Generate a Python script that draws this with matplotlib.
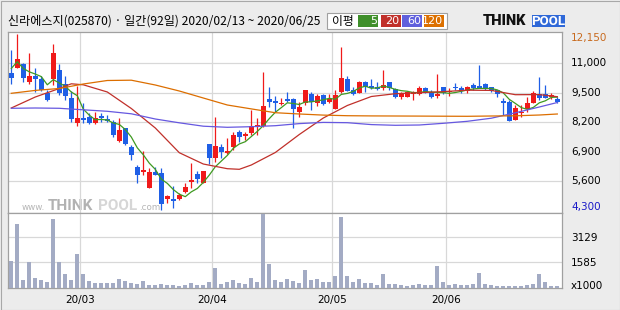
import matplotlib
matplotlib.use("Agg")
import matplotlib.pyplot as plt
import matplotlib.transforms as mtransforms
from matplotlib.patches import Rectangle
import numpy as np

# ---------------- data ----------------
title = "신라에스지(025870) · 일간(92일) 2020/02/13 ~ 2020/06/25"

opens = [10385, 10607, 10784, 10012, 10265, 10132, 9498, 10136, 10531, 9910,
         9303, 8167, 8389, 8447, 8181, 8504, 8358, 8225, 7396, 7945,
         7103, 6216, 6021, 5311, 6021, 5949, 4797, 4797, 4810, 5107,
         5577, 5919, 5506, 7249, 6642, 7103, 6864, 7130, 7795, 7604,
         7750, 8017, 8048, 9245, 9170, 9010, 9245, 9245, 8655, 9054,
         9454, 9081, 9422, 9125, 8801, 9569, 10132, 9644, 9524, 10012,
         9835, 9790, 9720, 10012, 9689, 9347, 9347, 9454, 9454, 9746,
         9569, 9378, 9777, 9569, 9790, 9746, 9600, 9866, 9821, 9897,
         9764, 9631, 9156, 9125, 8314, 8624, 8801, 9054, 9454, 9467,
         9347, 9262]
highs = [11418, 12115, 10828, 11272, 10607, 10278, 9644, 11684, 10784, 10265,
         9600, 9821, 9054, 8611, 8655, 8611, 8535, 8314, 8416, 7972,
         7205, 6318, 6939, 6171, 6242, 6171, 4987, 5387, 5063, 5506,
         6393, 6065, 6065, 7249, 8460, 7249, 7529, 7795, 7870, 7795,
         8757, 8389, 10456, 9764, 9391, 9303, 9569, 9303, 9125, 9644,
         9569, 9454, 9467, 9454, 9644, 11565, 10265, 9790, 10043, 10056,
         10132, 10012, 10531, 10012, 9746, 9569, 9600, 9600, 9835, 9790,
         9631, 10340, 9790, 9746, 9968, 9821, 9821, 9941, 10753, 9941,
         9790, 9644, 9276, 9201, 8979, 8979, 9347, 9600, 10234, 9866,
         9498, 9347]
lows = [9897, 10607, 9986, 9897, 9569, 9600, 9156, 9866, 9422, 9201,
        8238, 8061, 8167, 8136, 8123, 8238, 8225, 7573, 7325, 7205,
        6540, 5533, 5874, 5298, 5874, 4322, 4619, 4398, 4766, 5063,
        5285, 5506, 5506, 6349, 6464, 6615, 6793, 6983, 7351, 7427,
        7648, 7648, 8017, 8904, 8655, 8979, 9099, 7972, 8460, 8979,
        8757, 8935, 8979, 9081, 8801, 9498, 9600, 9422, 9524, 9569,
        9688, 9644, 9644, 9644, 9276, 9245, 9320, 9201, 9422, 9498,
        9303, 9276, 9467, 9391, 9644, 9524, 9524, 9644, 9720, 9644,
        9569, 9347, 8535, 8283, 8314, 8460, 8682, 9054, 9201, 9276,
        9245, 9054]
closes = [10190, 11019, 10163, 10265, 10119, 9631, 9200, 11298, 9524, 9391,
          8358, 8389, 8314, 8181, 8389, 8416, 8269, 7648, 7870, 7249,
          6761, 5874, 6096, 6021, 5874, 4588, 4943, 4721, 4987, 5329,
          5653, 5697, 6065, 6615, 7174, 6908, 6952, 7648, 7573, 7679,
          8048, 8092, 8935, 9125, 9081, 9081, 9156, 8788, 8904, 9644,
          9099, 9378, 9023, 9232, 9422, 10190, 9600, 9467, 10012, 9790,
          9746, 9675, 9866, 9720, 9347, 9467, 9542, 9569, 9746, 9542,
          9347, 9467, 9524, 9600, 9720, 9613, 9777, 9746, 9720, 9720,
          9600, 9454, 9081, 8283, 8832, 8669, 9054, 9524, 9303, 9276,
          9422, 9125]
volumes = [1660, 3960, 480, 1555, 600, 480, 355, 4270, 1600, 850,
           480, 2095, 850, 415, 290, 290, 250, 290, 520, 415,
           290, 230, 415, 170, 170, 230, 170, 170, 105, 170,
           290, 170, 170, 355, 1225, 230, 355, 480, 290, 230,
           600, 355, 4585, 1475, 480, 355, 540, 415, 290, 1100,
           480, 540, 355, 355, 730, 4400, 730, 355, 540, 290,
           290, 170, 850, 230, 230, 170, 105, 170, 230, 170,
           170, 1350, 355, 170, 230, 170, 170, 230, 915, 230,
           170, 105, 105, 105, 105, 105, 170, 230, 850, 355,
           105, 105]

ma5 = [10600, 10900, 10600, 10450, 10351, 10239, 9876, 10103, 9954, 9809,
       9554, 9392, 8795, 8527, 8326, 8338, 8314, 8181, 8118, 7890,
       7559, 7080, 6770, 6400, 6125, 5691, 5504, 5229, 5023, 4914,
       5127, 5277, 5546, 5872, 6241, 6492, 6743, 7059, 7251, 7352,
       7580, 7808, 8065, 8376, 8656, 8863, 9076, 9046, 9002, 9115,
       9118, 9163, 9210, 9275, 9231, 9449, 9493, 9582, 9738, 9812,
       9723, 9738, 9818, 9759, 9671, 9615, 9588, 9529, 9534, 9573,
       9549, 9534, 9525, 9496, 9532, 9585, 9647, 9691, 9715, 9715,
       9713, 9648, 9515, 9228, 9050, 8864, 8784, 8872, 9076, 9165,
       9316, 9330]

ma20_days = [0, 4, 8, 10, 12, 16, 20, 24, 28, 32, 36, 38, 40, 44, 48, 52, 56,
             60, 64, 68, 72, 76, 80, 84, 88, 91]
ma20 = [8846, 9334, 9711, 9919, 9875, 9556, 8824, 7959, 6863, 6362, 6154, 6127,
        6318, 6872, 7671, 8402, 8957, 9356, 9480, 9524, 9573, 9635, 9626, 9436,
        9440, 9347]

ma_days = [0, 4, 8, 12, 16, 20, 24, 28, 32, 36, 40, 44, 48, 52, 56, 60, 64,
           68, 72, 76, 80, 84, 88, 91]
ma60 = [8833, 8846, 8833, 8766, 8700, 8589, 8358, 8189, 8039, 7990, 8017, 8061,
        8154, 8207, 8194, 8110, 8079, 8092, 8167, 8256, 8393, 8633, 8890, 9090]
ma120 = [9498, 9626, 9711, 9910, 10066, 10079, 9866, 9600, 9289, 8979, 8806,
         8637, 8580, 8531, 8504, 8495, 8491, 8487, 8482, 8478, 8491, 8500,
         8535, 8580]

month_labels = ["20/03", "20/04", "20/05", "20/06"]
month_start_idx = [12, 34, 54, 73]

price_tick_labels = ["4,300", "5,600", "6,900", "8,200", "9,500", "11,000", "12,150"]
price_lo, price_hi = 4300, 12150
vol_tick_values = [0, 1585, 3129]
vol_tick_labels = ["x1000", "1585", "3129"]

legend_title = "이평"
legend_labels = ["5", "20", "60", "120"]

# ---------------- style ----------------
RED = "#f01a1a"
BLUE = "#1f5fe6"
VOLC = "#a3abc4"
GRID = "#d8d8d8"
FRAME = "#a0a0a0"
MA_COLORS = ["#3f9a22", "#c0302a", "#6658e0", "#dc6e00"]
LEG_COLORS = ["#3f8f2a", "#c0302a", "#6060dc", "#dc7000"]
BG = "#ececec"

W, H = 620, 310
fig = plt.figure(figsize=(W / 100, H / 100), dpi=100, facecolor=BG)


def fx(px):
    return px / W


def fy(py):
    return 1 - py / H


def add_rect(x0, y0, x1, y1, **kw):
    r = Rectangle((fx(x0), fy(y1)), (x1 - x0) / W, (y1 - y0) / H,
                  transform=fig.transFigure, **kw)
    fig.patches.append(r)
    return r


PL, PR = 7.5, 562.3
P_TOP, P_BOT = 31.7, 212.7
V_BOT = 287.5

ax = fig.add_axes([fx(PL), fy(P_BOT), (PR - PL) / W, (P_BOT - P_TOP) / H])
axv = fig.add_axes([fx(PL), fy(V_BOT), (PR - PL) / W, (V_BOT - P_BOT) / H])

n = len(closes)
idx = np.arange(n)
o = np.array(opens, float)
c = np.array(closes, float)
hi = np.array(highs, float)
lo = np.array(lows, float)

xlim = (-0.633, 91.83)
for a in (ax, axv):
    a.set_xlim(*xlim)
    a.set_facecolor("white")
    a.set_xticks([])
    a.set_yticks([])
    for s in a.spines.values():
        s.set_color(FRAME)
        s.set_linewidth(0.9)

ax.set_ylim(4202.5, 12229.8)
axv.set_ylim(0, 4652)

price_ticks = np.linspace(price_lo, price_hi, len(price_tick_labels))

# grid
for t in price_ticks[1:-1]:
    ax.axhline(t, color=GRID, lw=0.9, zorder=1)
for t in vol_tick_values[1:]:
    axv.axhline(t, color=GRID, lw=0.9, zorder=1)
for m in month_start_idx:
    ax.axvline(m - 0.5, color=GRID, lw=0.9, zorder=1)
    axv.axvline(m - 0.5, color=GRID, lw=0.9, zorder=1)

# watermark
wm_y = (P_BOT - 209.5) / (P_BOT - P_TOP)


def wmx(px):
    return (px - PL) / (PR - PL)


ax.text(wmx(22), wm_y, "www.", transform=ax.transAxes, fontsize=6.3,
        color="#b6b6b6", family="DejaVu Sans", va="baseline", zorder=0.5)
ax.text(wmx(48), wm_y, "THINK", transform=ax.transAxes, fontsize=11,
        color="#b2b2b2", family="Roboto", weight="bold", va="baseline", zorder=0.5)
ax.text(wmx(98), wm_y, "POOL", transform=ax.transAxes, fontsize=11,
        color="#d6d6d6", family="Roboto", weight="bold", va="baseline", zorder=0.5)
ax.text(wmx(139), wm_y, ".com", transform=ax.transAxes, fontsize=6.3,
        color="#b6b6b6", family="DejaVu Sans", va="baseline", zorder=0.5)

# candles
up = c >= o
colors = np.where(up, RED, BLUE)
body_bot = np.minimum(o, c)
body_h = np.maximum(np.abs(c - o), 30)
ax.vlines(idx, lo, hi, colors=colors, lw=0.9, zorder=3)
ax.bar(idx, body_h, bottom=body_bot, width=0.8, color=colors, linewidth=0, zorder=4)

# moving averages
ax.plot(idx, ma5, color=MA_COLORS[0], lw=0.9, zorder=5)
ax.plot(ma20_days, ma20, color=MA_COLORS[1], lw=0.9, zorder=5)
ax.plot(ma_days, ma60, color=MA_COLORS[2], lw=0.9, zorder=5)
ax.plot(ma_days, ma120, color=MA_COLORS[3], lw=0.9, zorder=5)

# volume
axv.bar(idx, volumes, width=0.72, color=VOLC, linewidth=0, zorder=3)

# right-side labels
lab_dx = 8.7 * 0.72  # points
ptrans = mtransforms.blended_transform_factory(ax.transAxes, ax.transData)
for k, (val, lab) in enumerate(zip(price_ticks, price_tick_labels)):
    dy = 0
    col = "black"
    if k == 0:
        dy = 3.8 * 0.72
        col = "#1a1ac8"
    elif k == len(price_ticks) - 1:
        dy = -4.6 * 0.72
        col = "#c86a1e"
    tr = mtransforms.offset_copy(ptrans, fig=fig, x=lab_dx, y=dy, units="points")
    ax.text(1, val, lab, transform=tr, ha="left", va="center", fontsize=7.5,
            color=col, family="DejaVu Sans", clip_on=False)

vtrans = mtransforms.blended_transform_factory(axv.transAxes, axv.transData)
for k, (val, lab) in enumerate(zip(vol_tick_values, vol_tick_labels)):
    dy = 1.5 * 0.72 if k == 0 else -0.5 * 0.72
    tr = mtransforms.offset_copy(vtrans, fig=fig, x=lab_dx, y=dy, units="points")
    axv.text(1, val, lab, transform=tr, ha="left", va="center", fontsize=7.5,
             color="black", family="DejaVu Sans", clip_on=False)

# month labels
xtrans = mtransforms.blended_transform_factory(axv.transData, axv.transAxes)
xtr = mtransforms.offset_copy(xtrans, fig=fig, x=0, y=-12.5 * 0.72, units="points")
for m, lab in zip(month_start_idx, month_labels):
    axv.text(m - 0.5, 0, lab, transform=xtr, ha="center", va="center",
             fontsize=7.5, color="black", family="DejaVu Sans", clip_on=False)

# header
fig.text(fx(8), fy(21.5), title, ha="left", va="center", fontsize=8.7,
         family=["Noto Sans CJK KR", "DejaVu Sans"], color="black")

# legend box
add_rect(327, 13, 447, 29, facecolor="white", edgecolor=FRAME, lw=0.8)
fig.text(fx(332), fy(21), legend_title, ha="left", va="center", fontsize=8.5,
         family=["Noto Sans CJK KR", "DejaVu Sans"], color="black")
boxes = [(358.3, 378.3), (381, 401), (402.3, 422.3), (424, 444)]
for (x0, x1), col, lab in zip(boxes, LEG_COLORS, legend_labels):
    add_rect(x0, 15, x1, 27.3, facecolor=col, edgecolor="none")
    fig.text(fx(x1 - 1.5), fy(21.3), lab, ha="right", va="center", fontsize=8,
             family="DejaVu Sans", color="white")

# logo
fig.text(fx(483), fy(21.2), "THINK", ha="left", va="center", fontsize=10.5,
         family="Roboto", weight="black", color="#111111")
add_rect(532, 15.5, 565, 26.5, facecolor="#2f68d8", edgecolor="none")
fig.text(fx(548.5), fy(21.2), "POOL", ha="center", va="center", fontsize=9.5,
         family="Roboto", weight="bold", color="white")

# outer frame
add_rect(0.5, 0.5, W - 0.5, H - 0.5, fill=False, edgecolor="#a8a8a8", lw=0.8)

fig.savefig("out.png", dpi=100, facecolor=BG)
